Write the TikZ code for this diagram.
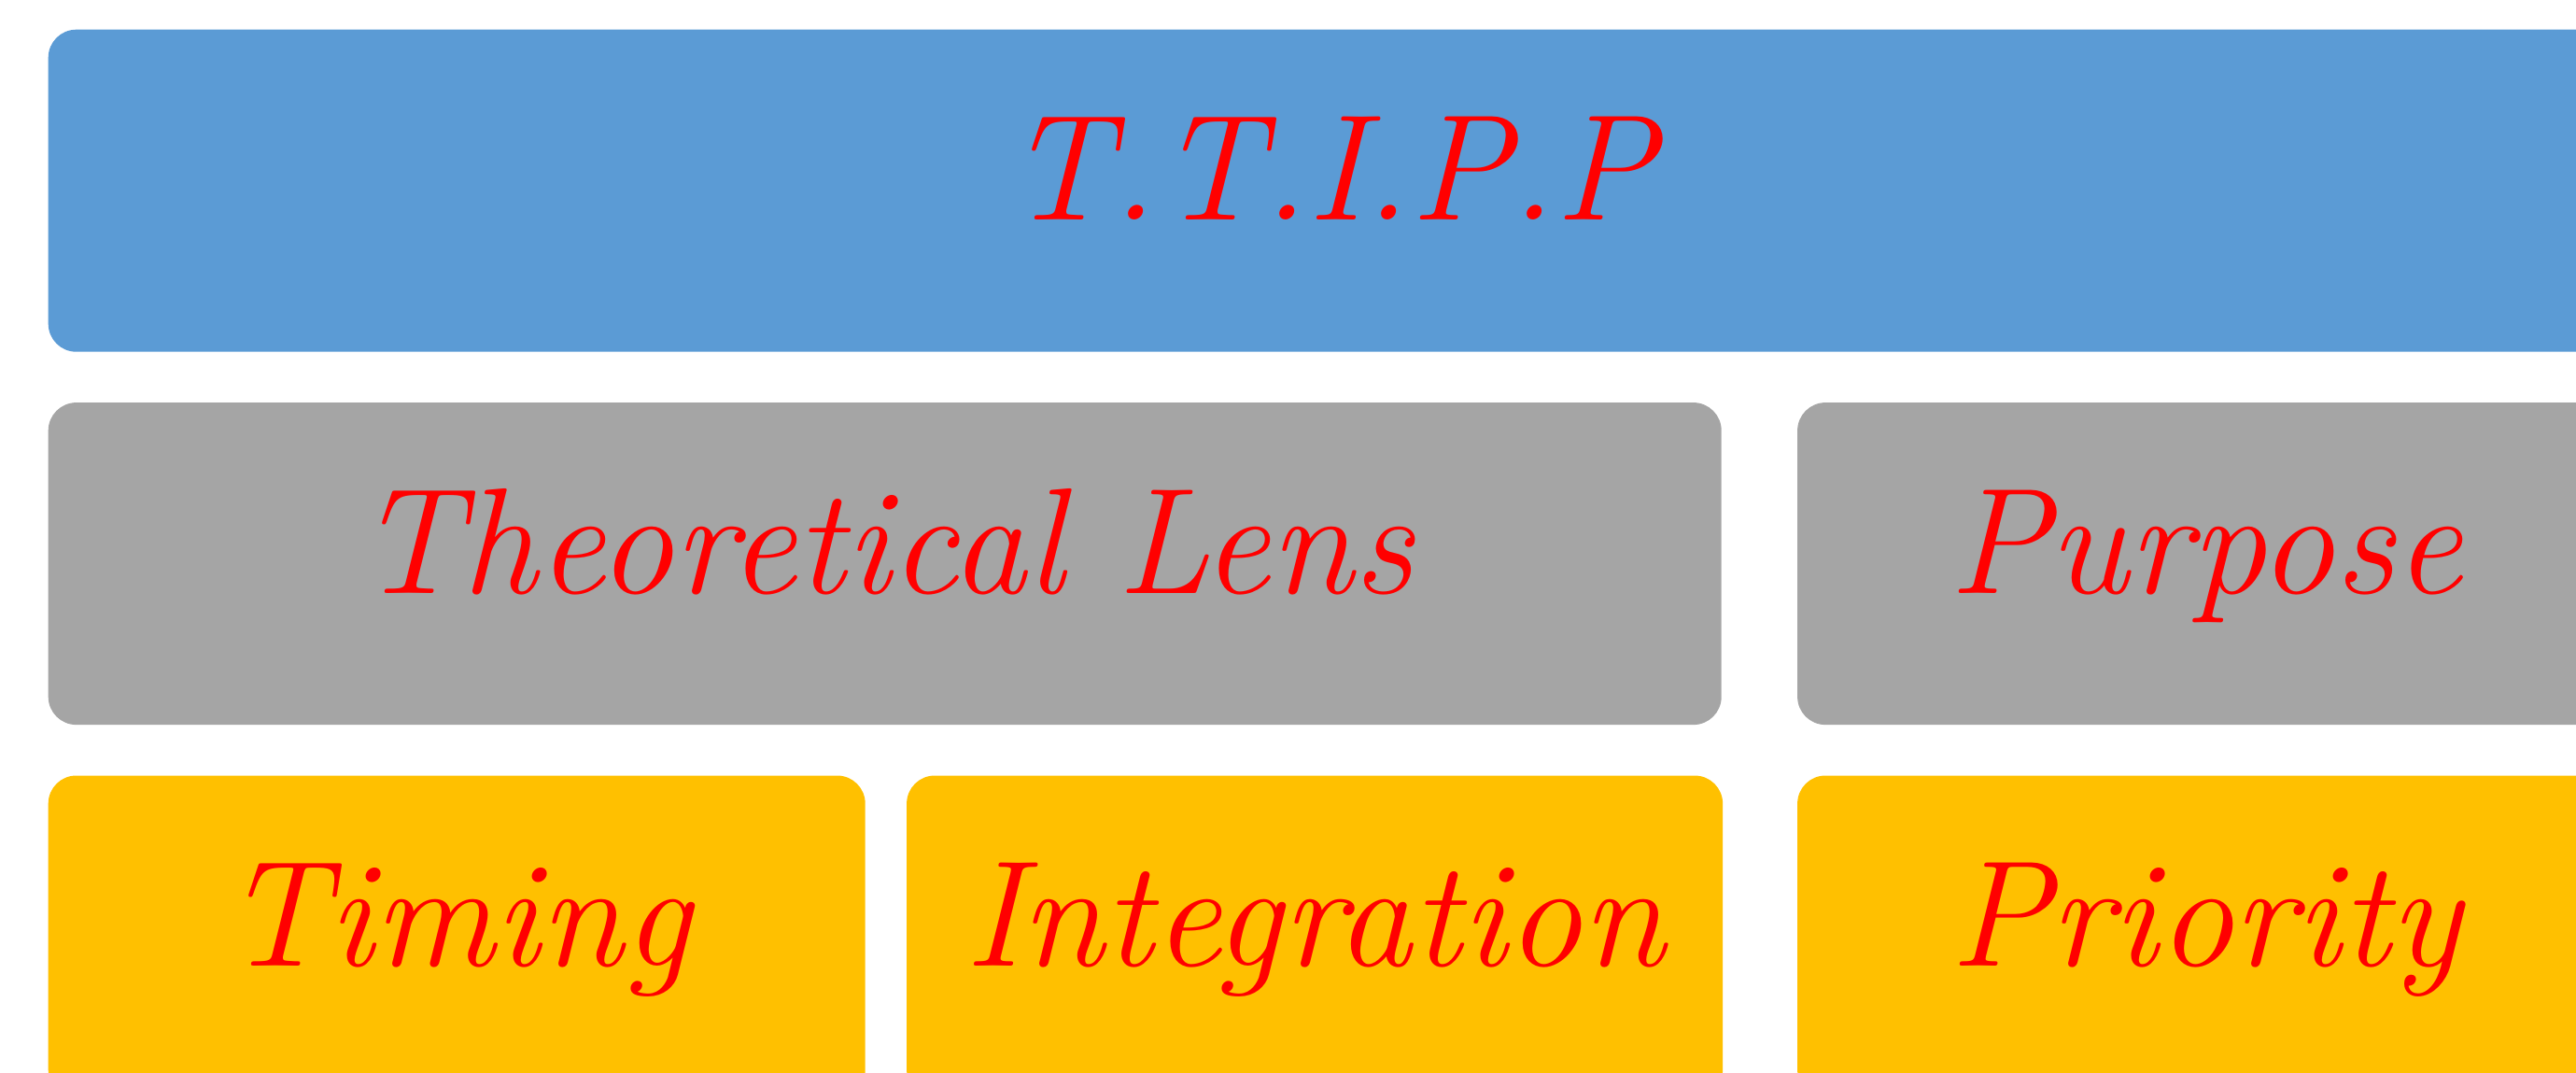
\documentclass[tikz,border=0pt]{standalone}
\usetikzlibrary{positioning}

\definecolor{tipblue}{HTML}{5B9BD5}
\definecolor{tipgray}{HTML}{A5A5A5}
\definecolor{tipgold}{HTML}{FFC000}

\begin{document}
\begin{tikzpicture}[font=\fontsize{46}{52}\selectfont\itshape,
	box/.style={rounded corners=3mm,inner sep=0pt,text=red,minimum height=3.45cm,
		text height=33pt,text depth=15pt,anchor=north west},
	node distance=5.3mm]
	\useasboundingbox (0,0) rectangle (27.59,11.48);
	\clip (0,0) rectangle (27.59,11.48);
	\node[box,fill=tipblue,minimum width=27.47cm] (ttipp) at (0.51,11.17) {T.T.I.P.P};
	\node[box,fill=tipgray,minimum width=17.92cm,below=of ttipp.south west,anchor=north west] (lens) {Theoretical Lens};
	\node[box,fill=tipgray,minimum width=8.75cm,right=8mm of lens.north east,anchor=north west] (purpose) {Purpose};
	\node[box,fill=tipgold,minimum width=8.75cm,below=of lens.south west,anchor=north west] (timing) {Timing};
	\node[box,fill=tipgold,minimum width=8.74cm,right=4.3mm of timing.north east,anchor=north west] (integ) {Integration};
	\node[box,fill=tipgold,minimum width=8.75cm,below=of purpose.south west,anchor=north west] (priority) {Priority};
\end{tikzpicture}
\end{document}
